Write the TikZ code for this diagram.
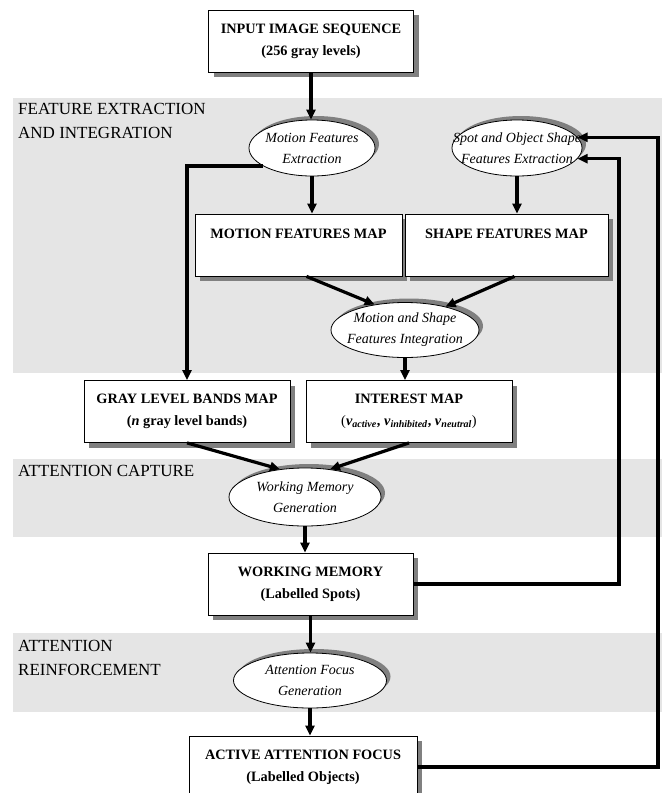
\documentclass[tikz,border=0pt]{standalone}
\usepackage{fontspec}
\setmainfont{Liberation Serif}
\usetikzlibrary{shapes.geometric,arrows.meta,shadows,calc}
\definecolor{bandgray}{RGB}{229,229,229}
\definecolor{shadowgray}{RGB}{128,128,128}
\tikzset{
  box/.style={draw=black, line width=0.8pt, fill=white, minimum height=62pt, inner sep=0pt, align=center,
    font=\fontsize{14.3}{22}\selectfont\bfseries,
    general shadow={fill=shadowgray, shadow xshift=5pt, shadow yshift=-5pt}},
  ell/.style={ellipse, draw=black, line width=0.8pt, fill=white, inner sep=0pt,
    general shadow={fill=shadowgray, shadow xshift=4pt, shadow yshift=4pt}},
  etext/.style={align=center, font=\fontsize{14}{21}\selectfont\itshape, inner sep=0pt},
  bandlabel/.style={anchor=north west, align=left, font=\fontsize{17}{24}\selectfont, inner sep=0pt},
  arr/.style={line width=3.2pt, -{Triangle[length=10pt,width=9pt]}},
}
\begin{document}
\begin{tikzpicture}[x=1pt,y=-1pt]
\useasboundingbox (0,0) rectangle (662,793);
\clip (0,0) rectangle (662,793);
% bands
\fill[bandgray] (13,98) rectangle (662,373);
\fill[bandgray] (13,459) rectangle (662,537);
\fill[bandgray] (13,633) rectangle (662,712);
\node[bandlabel] (lab1) at (18,103) {FEATURE EXTRACTION\\AND INTEGRATION};
\node[bandlabel] (lab2) at (18,465) {ATTENTION CAPTURE};
\node[bandlabel] (lab3) at (18,640) {ATTENTION\\REINFORCEMENT};
% nodes
\node[box, minimum width=205] (inp) at (311,41) {INPUT IMAGE SEQUENCE\\(256 gray levels)};
\node[ell, minimum width=126, minimum height=56] (mfe) at (312,148) {};
\node[etext] at (mfe) {Motion Features\\Extraction};
\node[ell, minimum width=130, minimum height=56] (sofe) at (517,148) {};
\node[etext] at (sofe) {Spot and Object Shape\\Features Extraction};
\node[box, minimum width=207] (mfm) at (298.5,245) {MOTION FEATURES MAP\\\mbox{}};
\node[box, minimum width=203] (sfm) at (506.5,245) {SHAPE FEATURES MAP\\\mbox{}};
\node[ell, minimum width=148, minimum height=55] (ise) at (405,330) {};
\node[etext] at (ise) {Motion and Shape\\Features Integration};
\node[box, minimum width=206] (glb) at (187,411.5) {GRAY LEVEL BANDS MAP\\(\textit{n} gray level bands)};
\node[box, minimum width=206] (int) at (409,411.5) {INTEREST MAP\\\textmd{(}\textit{v}\textsubscript{\textit{active}}, \textit{v}\textsubscript{\textit{inhibited}}, \textit{v}\textsubscript{\textit{neutral}}\textmd{)}};
\node[ell, minimum width=152, minimum height=58] (wme) at (305,497) {};
\node[etext] at (wme) {Working Memory\\Generation};
\node[box, minimum width=205] (wmb) at (310.5,584) {WORKING MEMORY\\(Labelled Spots)};
\node[ell, minimum width=153, minimum height=55] (afe) at (310,680.5) {};
\node[etext] at (afe) {Attention Focus\\Generation};
\node[box, minimum width=228] (aaf) at (303,767) {ACTIVE ATTENTION FOCUS\\(Labelled Objects)};
\coordinate (fbi) at (619,0);
\coordinate (fbo) at (658,0);
% connectors
\draw[arr] (inp.south) -- (inp.south |- mfe.north);
\draw[arr] (mfe.south) -- (mfe.south |- mfm.north);
\draw[arr] (sofe.south) -- (sofe.south |- sfm.north);
\draw[arr] (mfe.200) -| (glb.north);
\draw[arr] ($(mfm.south)+(8,0)$) -- (ise.140);
\draw[arr] ($(sfm.south)+(8,0)$) -- (ise.30);
\draw[arr] (ise.south) -- (ise.south |- int.north);
\draw[arr] (glb.south) -- (wme.132);
\draw[arr] (int.south) -- (wme.48);
\draw[arr] (wme.south) -- (wme.south |- wmb.north);
\draw[arr] (wmb.south) -- (wmb.south |- afe.north);
\draw[arr] (afe.south) -- (afe.south |- aaf.north);
\draw[arr] (wmb.east) -- (wmb.east -| fbi) -- (fbi |- sofe.-10) -- (sofe.-10);
\draw[arr] (aaf.east) -- (aaf.east -| fbo) -- (fbo |- sofe.10) -- (sofe.10);
\end{tikzpicture}
\end{document}
